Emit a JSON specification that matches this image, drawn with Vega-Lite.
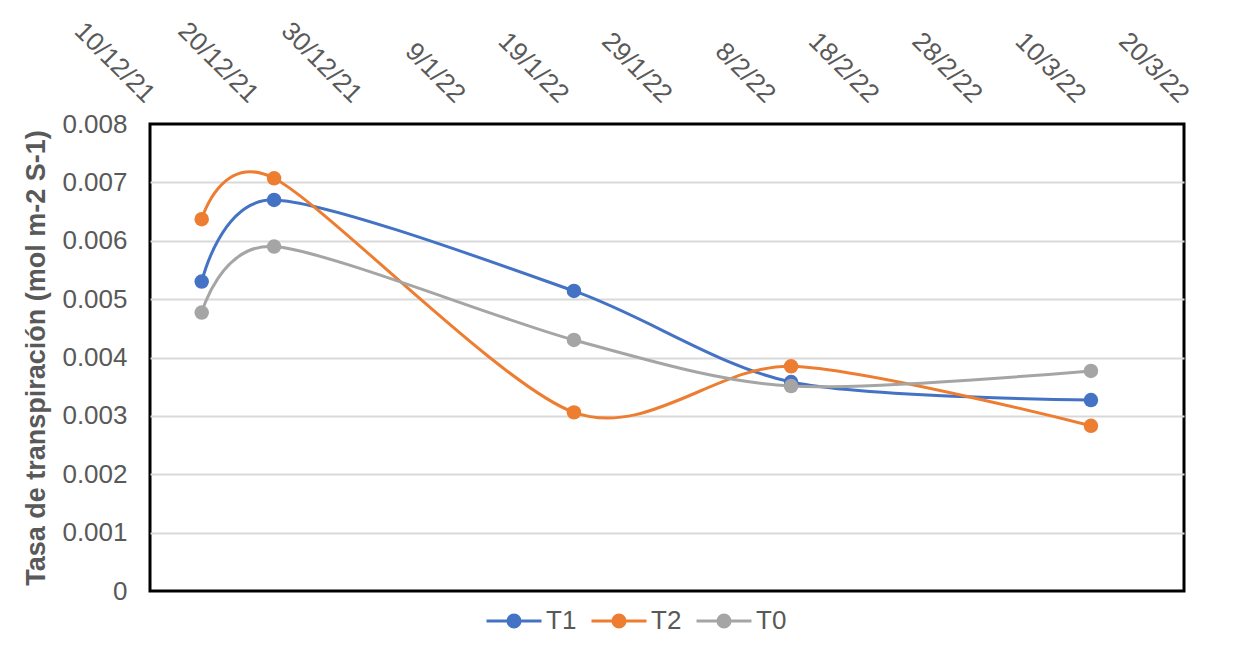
{
  "$schema": "https://vega.github.io/schema/vega-lite/v6.json",
  "autosize": {"type": "none"},
  "width": 1034,
  "height": 467,
  "padding": {"left": 150, "top": 124, "right": 65, "bottom": 61},
  "background": "white",
  "config": {
    "font": "Liberation Sans",
    "view": {"stroke": "#000000", "strokeWidth": 3}
  },
  "data": {
    "values": [
      {"fecha": "2021-12-15T00:00:00", "serie": "T1", "tasa": 0.0053},
      {"fecha": "2021-12-22T00:00:00", "serie": "T1", "tasa": 0.0067},
      {"fecha": "2022-01-20T00:00:00", "serie": "T1", "tasa": 0.00514},
      {"fecha": "2022-02-10T00:00:00", "serie": "T1", "tasa": 0.00358},
      {"fecha": "2022-03-11T00:00:00", "serie": "T1", "tasa": 0.00327},
      {"fecha": "2021-12-15T00:00:00", "serie": "T2", "tasa": 0.00637},
      {"fecha": "2021-12-22T00:00:00", "serie": "T2", "tasa": 0.00707},
      {"fecha": "2022-01-20T00:00:00", "serie": "T2", "tasa": 0.00306},
      {"fecha": "2022-02-10T00:00:00", "serie": "T2", "tasa": 0.00385},
      {"fecha": "2022-03-11T00:00:00", "serie": "T2", "tasa": 0.00283},
      {"fecha": "2021-12-15T00:00:00", "serie": "T0", "tasa": 0.00477},
      {"fecha": "2021-12-22T00:00:00", "serie": "T0", "tasa": 0.0059},
      {"fecha": "2022-01-20T00:00:00", "serie": "T0", "tasa": 0.0043},
      {"fecha": "2022-02-10T00:00:00", "serie": "T0", "tasa": 0.00351},
      {"fecha": "2022-03-11T00:00:00", "serie": "T0", "tasa": 0.00377}
    ]
  },
  "mark": {
    "type": "line",
    "interpolate": "cardinal",
    "tension": 0.15,
    "strokeWidth": 3,
    "point": {"filled": true, "size": 210, "opacity": 1}
  },
  "encoding": {
    "x": {
      "field": "fecha",
      "type": "temporal",
      "scale": {
        "domain": [
          {"year": 2021, "month": 12, "date": 10},
          {"year": 2022, "month": 3, "date": 20}
        ]
      },
      "axis": {
        "orient": "top",
        "title": null,
        "values": [
          {"year": 2021, "month": 12, "date": 10},
          {"year": 2021, "month": 12, "date": 20},
          {"year": 2021, "month": 12, "date": 30},
          {"year": 2022, "month": 1, "date": 9},
          {"year": 2022, "month": 1, "date": 19},
          {"year": 2022, "month": 1, "date": 29},
          {"year": 2022, "month": 2, "date": 8},
          {"year": 2022, "month": 2, "date": 18},
          {"year": 2022, "month": 2, "date": 28},
          {"year": 2022, "month": 3, "date": 10},
          {"year": 2022, "month": 3, "date": 20}
        ],
        "format": "%-d/%-m/%y",
        "labelAngle": 45,
        "labelAlign": "right",
        "labelBaseline": "middle",
        "labelPadding": 26,
        "labelFontSize": 26,
        "labelColor": "#595959",
        "labelOverlap": false,
        "labelFlush": false,
        "ticks": false,
        "domain": false,
        "grid": false
      }
    },
    "y": {
      "field": "tasa",
      "type": "quantitative",
      "scale": {"domain": [0, 0.008], "nice": false, "zero": true},
      "axis": {
        "title": "Tasa de transpiración (mol m-2 S-1)",
        "titleFontSize": 27,
        "titleFontWeight": "bold",
        "titleColor": "#595959",
        "titlePadding": 11,
        "values": [0, 0.001, 0.002, 0.003, 0.004, 0.005, 0.006, 0.007, 0.008],
        "format": ".3~f",
        "labelFontSize": 26,
        "labelColor": "#595959",
        "labelPadding": 23,
        "ticks": false,
        "domain": false,
        "grid": true,
        "gridColor": {
          "condition": {"test": "datum.value <= 0 || datum.value >= 0.008", "value": "transparent"},
          "value": "#d9d9d9"
        },
        "gridWidth": 2
      }
    },
    "color": {
      "field": "serie",
      "type": "nominal",
      "scale": {
        "domain": ["T1", "T2", "T0"],
        "range": ["#4472C4", "#ED7D31", "#A5A5A5"]
      },
      "legend": {
        "title": null,
        "orient": "none",
        "direction": "horizontal",
        "legendX": 335,
        "legendY": 468,
        "symbolType": "M-1,0H1M-0.22,0A0.22,0.22,0,1,1,0.22,0A0.22,0.22,0,1,1,-0.22,0Z",
        "symbolSize": 3025,
        "symbolStrokeWidth": 3,
        "labelFontSize": 26,
        "labelColor": "#595959",
        "labelOffset": 3,
        "columnPadding": 8,
        "encode": {
          "symbols": {
            "update": {
              "fill": {"scale": "color", "field": "value"},
              "stroke": {"scale": "color", "field": "value"},
              "opacity": {"value": 1}
            }
          }
        }
      }
    }
  }
}
